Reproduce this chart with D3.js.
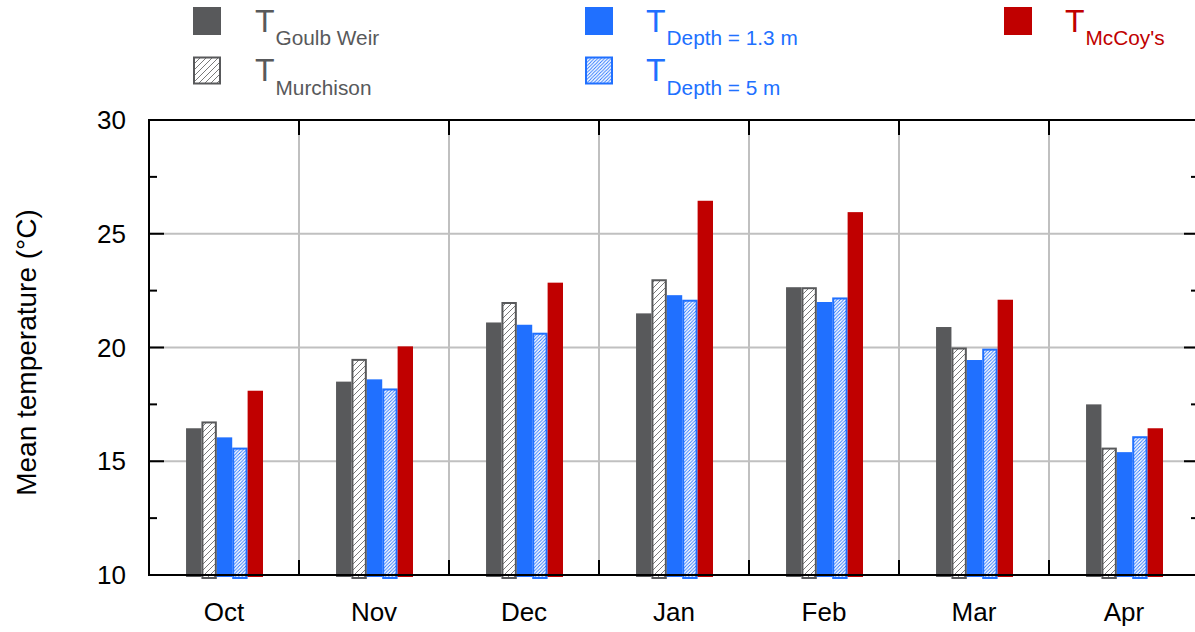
<!DOCTYPE html>
<html>
<head>
<meta charset="utf-8">
<script src="https://cdn.jsdelivr.net/npm/d3@7"></script>
<style>
  body { margin: 0; background: #fff; }
  svg { display: block; font-family: "Liberation Sans", Arial, sans-serif; }
</style>
</head>
<body>
<script>
"use strict";

// monthly mean temperatures
const months = ["Oct", "Nov", "Dec", "Jan", "Feb", "Mar", "Apr"];
const goulbWeir = [16.45, 18.5, 21.1, 21.5, 22.65, 20.9, 17.5];
const murchison = [16.75, 19.5, 22.0, 23.0, 22.65, 20.0, 15.6];
const depth13 = [16.05, 18.6, 21.0, 22.3, 22.0, 19.45, 15.4];
const depth5 = [15.6, 18.2, 20.65, 22.1, 22.2, 19.95, 16.1];
const mccoys = [18.1, 20.05, 22.85, 26.45, 25.95, 22.1, 16.45];

const yTicks = [10, 15, 20, 25, 30];
const yMinor = [12.5, 17.5, 22.5, 27.5];

const grey = "#58595b";
const blue = "#2070ff";
const red = "#c00000";

// series: key, values, fill, stroke
const series = [
    { key: "goulb", sub: "Goulb Weir", values: goulbWeir, fill: grey, stroke: null, color: grey },
    { key: "murch", sub: "Murchison", values: murchison, fill: "url(#hatchGrey)", stroke: grey, color: grey },
    { key: "d13", sub: "Depth = 1.3 m", values: depth13, fill: blue, stroke: null, color: blue },
    { key: "d5", sub: "Depth = 5 m", values: depth5, fill: "url(#hatchBlue)", stroke: blue, color: blue },
    { key: "mccoy", sub: "McCoy's", values: mccoys, fill: red, stroke: null, color: red }
];

let w = 1195, h = 632;
let margin = { left: 149, right: 1199, top: 120, bottom: 575 };

let svg = d3.select("body").append("svg")
    .attr("width", w)
    .attr("height", h);

// patterns
let defs = svg.append("defs");
function hatch(id, size, col, sw) {
    let p = defs.append("pattern")
        .attr("id", id)
        .attr("patternUnits", "userSpaceOnUse")
        .attr("width", size)
        .attr("height", size);
    p.append("rect").attr("width", size).attr("height", size).attr("fill", "#fff");
    p.append("path")
        .attr("d", "M-1,1 l2,-2 M0," + size + " l" + size + "," + (-size) + " M" + (size - 1) + "," + (size + 1) + " l2,-2")
        .attr("stroke", col)
        .attr("stroke-width", sw);
}
hatch("hatchGrey", 6, "#6a6a6a", 0.9);
hatch("hatchBlue", 3.4, blue, 0.9);

let x0 = d3.scaleBand()
    .domain(months)
    .range([margin.left, margin.right]);

let x1 = d3.scaleBand()
    .domain(series.map(function (s) { return s.key; }))
    .range([x0.bandwidth() * 0.247, x0.bandwidth() * 0.76]);

let y = d3.scaleLinear()
    .domain([10, 30])
    .range([margin.bottom, margin.top]);

// grid
let grid = svg.append("g").attr("stroke", "#c0c0c0").attr("stroke-width", 2);
grid.selectAll(".hg")
    .data([15, 20, 25])
    .enter()
    .append("line")
    .attr("x1", margin.left).attr("x2", margin.right)
    .attr("y1", function (d) { return y(d); })
    .attr("y2", function (d) { return y(d); });
grid.selectAll(".vg")
    .data(months.slice(1))
    .enter()
    .append("line")
    .attr("x1", function (d) { return x0(d); })
    .attr("x2", function (d) { return x0(d); })
    .attr("y1", margin.top).attr("y2", margin.bottom);

// bars
let groups = svg.selectAll(".grp")
    .data(months)
    .enter()
    .append("g")
    .attr("transform", function (d) { return "translate(" + x0(d) + ",0)"; });

groups.selectAll("rect")
    .data(function (m, i) {
        return series.map(function (s) { return { s: s, v: s.values[i] }; });
    })
    .enter()
    .append("rect")
    .attr("x", function (d) { return x1(d.s.key) + (d.s.stroke ? 1 : 0); })
    .attr("width", function (d) { return x1.bandwidth() - (d.s.stroke ? 2 : 0); })
    .attr("y", function (d) { return y(d.v) + (d.s.stroke ? 1 : 0); })
    .attr("height", function (d) { return y(10) - y(d.v) + 2; })
    .attr("fill", function (d) { return d.s.fill; })
    .attr("stroke", function (d) { return d.s.stroke; })
    .attr("stroke-width", 2);

// frame + ticks
let axes = svg.append("g").attr("stroke", "#000").attr("stroke-width", 2);
axes.append("rect")
    .attr("x", margin.left).attr("y", margin.top)
    .attr("width", margin.right - margin.left)
    .attr("height", margin.bottom - margin.top)
    .attr("fill", "none");

function yTickLines(vals, len) {
    vals.forEach(function (v) {
        axes.append("line")
            .attr("x1", margin.left).attr("x2", margin.left + len)
            .attr("y1", y(v)).attr("y2", y(v));
        axes.append("line")
            .attr("x1", margin.right).attr("x2", margin.right - len)
            .attr("y1", y(v)).attr("y2", y(v));
    });
}
yTickLines(yTicks, 15);
yTickLines(yMinor, 8);

months.slice(1).forEach(function (m) {
    axes.append("line")
        .attr("x1", x0(m)).attr("x2", x0(m))
        .attr("y1", margin.bottom).attr("y2", margin.bottom - 15);
    axes.append("line")
        .attr("x1", x0(m)).attr("x2", x0(m))
        .attr("y1", margin.top).attr("y2", margin.top + 15);
});

// tick labels
svg.selectAll(".ylab")
    .data(yTicks)
    .enter()
    .append("text")
    .attr("x", 126)
    .attr("y", function (d) { return y(d) + 9; })
    .attr("text-anchor", "end")
    .style("font-size", "26px")
    .text(function (d) { return d; });

svg.selectAll(".xlab")
    .data(months)
    .enter()
    .append("text")
    .attr("x", function (d) { return x0(d) + x0.bandwidth() / 2; })
    .attr("y", 621)
    .attr("text-anchor", "middle")
    .style("font-size", "26px")
    .text(function (d) { return d; });

svg.append("text")
    .attr("transform", "translate(36," + ((margin.top + margin.bottom) / 2 + 5) + ") rotate(-90)")
    .attr("text-anchor", "middle")
    .style("font-size", "28px")
    .text("Mean temperature (°C)");

// legend
let legendPos = [
    { sx: 193, tx: 255, row: 0 },
    { sx: 193, tx: 255, row: 1 },
    { sx: 585, tx: 646, row: 0 },
    { sx: 585, tx: 646, row: 1 },
    { sx: 1004, tx: 1065, row: 0 }
];

series.forEach(function (s, i) {
    let p = legendPos[i];
    let top = 7 + p.row * 49.5;
    svg.append("rect")
        .attr("x", p.sx + (s.stroke ? 1 : 0))
        .attr("y", top + (s.stroke ? 1 : 0))
        .attr("width", 28 - (s.stroke ? 2 : 0))
        .attr("height", 28 - (s.stroke ? 2 : 0))
        .attr("fill", s.fill)
        .attr("stroke", s.stroke)
        .attr("stroke-width", 2);
    let t = svg.append("text")
        .attr("x", p.tx)
        .attr("y", top + 24.5)
        .attr("fill", s.color)
        .style("font-size", "32px");
    t.append("tspan").text("T");
    t.append("tspan")
        .attr("dx", 1)
        .attr("dy", 13.5)
        .style("font-size", "20.8px")
        .text(s.sub);
});
</script>
</body>
</html>
